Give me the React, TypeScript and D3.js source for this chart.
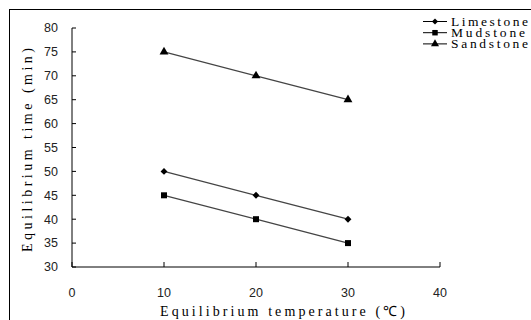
import * as d3 from "d3";

const temps = [10, 20, 30];
const limestone = [50, 45, 40];
const mudstone = [45, 40, 35];
const sandstone = [75, 70, 65];
const xTicks = [0, 10, 20, 30, 40];
const yTicks = [30, 35, 40, 45, 50, 55, 60, 65, 70, 75, 80];

const series = [
  { name: "Limestone", values: limestone, shape: d3.symbolDiamond2, size: 30, len: 77 },
  { name: "Mudstone", values: mudstone, shape: d3.symbolSquare, size: 36, len: 74 },
  { name: "Sandstone", values: sandstone, shape: d3.symbolTriangle, size: 34, len: 77 },
];

export default function App() {
  const width = 531;
  const height = 320;
  const x = d3.scaleLinear().domain([0, 40]).range([72, 440]);
  const y = d3.scaleLinear().domain([30, 80]).range([267, 28]);
  const line = d3
    .line<number>()
    .x((_, i) => x(temps[i]))
    .y((d) => y(d));
  const serif = "Liberation Serif, Times New Roman, serif";

  return (
    <svg
      width={width}
      height={height}
      style={{ position: "absolute", left: 0, top: 0, background: "#fff" }}
    >
      <rect x={9.5} y={9.5} width={600} height={400} fill="none" stroke="#000" />
      {/* axes */}
      <line x1={x(0)} x2={x(0)} y1={y(80)} y2={y(30)} stroke="#000" />
      <line x1={x(0)} x2={x(40)} y1={y(30)} y2={y(30)} stroke="#000" />
      {yTicks.map((t) => (
        <g key={"y" + t}>
          <line x1={x(0)} x2={x(0) + 4} y1={y(t)} y2={y(t)} stroke="#000" />
          <text
            x={58}
            y={y(t)}
            dy="0.35em"
            textAnchor="end"
            fontFamily="Liberation Sans, Arial, sans-serif"
            fontSize={12.5}
            fill="#222"
          >
            {t}
          </text>
        </g>
      ))}
      {xTicks.map((t) => (
        <g key={"x" + t}>
          <line x1={x(t)} x2={x(t)} y1={y(30)} y2={y(30) - 5} stroke="#000" />
          <text
            x={x(t)}
            y={297}
            textAnchor="middle"
            fontFamily="Liberation Sans, Arial, sans-serif"
            fontSize={12.5}
            fill="#222"
          >
            {t}
          </text>
        </g>
      ))}
      {/* axis titles */}
      <text
        x={160}
        y={316}
        fontFamily={serif}
        fontSize={14}
        textLength={245}
        lengthAdjust="spacing"
        fill="#000"
      >
        Equilibrium temperature (℃)
      </text>
      <text
        transform="translate(32,252) rotate(-90)"
        fontFamily={serif}
        fontSize={14}
        textLength={204}
        lengthAdjust="spacing"
        fill="#000"
      >
        Equilibrium time (min)
      </text>
      {/* series */}
      {series.map((s) => (
        <g key={s.name}>
          <path d={line(s.values) ?? ""} fill="none" stroke="#444" strokeWidth={1.2} />
          {s.values.map((v, i) => (
            <path
              key={i}
              d={d3.symbol(s.shape, s.size)() ?? ""}
              transform={`translate(${x(temps[i])},${y(v)})`}
              fill="#000"
            />
          ))}
        </g>
      ))}
      {/* legend */}
      {series.map((s, i) => {
        const ly = 21.5 + i * 11.2;
        return (
          <g key={"lg" + s.name}>
            <line x1={423} x2={447} y1={ly} y2={ly} stroke="#000" />
            <path
              d={d3.symbol(s.shape, s.size - 6)() ?? ""}
              transform={`translate(435,${ly})`}
              fill="#000"
            />
            <text
              x={451}
              y={ly}
              dy="0.33em"
              fontFamily={serif}
              fontSize={13.5}
              textLength={s.len}
              lengthAdjust="spacing"
              fill="#000"
            >
              {s.name}
            </text>
          </g>
        );
      })}
    </svg>
  );
}
